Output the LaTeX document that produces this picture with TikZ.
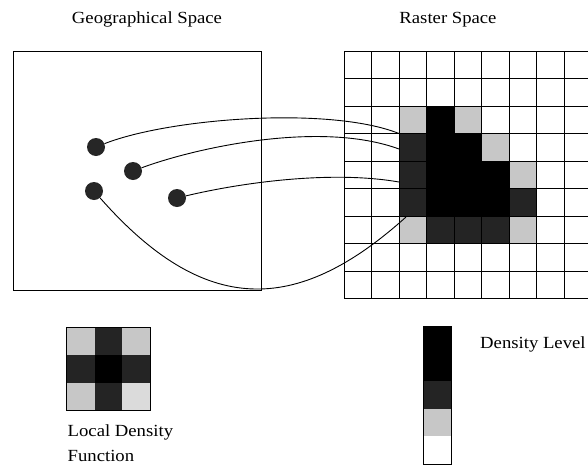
\documentclass[tikz,border=0pt]{standalone}
\usepackage{fontspec}
\setmainfont{Liberation Serif}[FakeStretch=1.1]
\usepackage{tikz}
\usetikzlibrary{positioning}
\tikzset{
  label text/.style={font=\fontsize{17}{24.5}\selectfont, inner sep=0pt},
  site/.style={circle, fill=black!85, inner sep=0pt, minimum size=18pt},
  link/.style={line width=0.9pt},
  frame/.style={line width=0.9pt},
  lightcell/.style={fill=black!22},
  darkcell/.style={fill=black!86},
  blackcell/.style={fill=black},
  palecell/.style={fill=black!14},
}
\newcommand{\cellsz}{27.5}

\begin{document}
\begin{tikzpicture}[x=1pt, y=-1pt]
    \useasboundingbox (0,0) rectangle (588,466);

    % titles
    \node[label text, anchor=base] (geotitle) at (147,23) {Geographical Space};
    \node[label text, anchor=base] (rastitle) at (448,23) {Raster Space};

    % geographical space
    \draw[frame] (13,51) rectangle (261,290);
    \node[site] (s1) at (96,147)  {};
    \node[site] (s2) at (133,171) {};
    \node[site] (s3) at (94,191)  {};
    \node[site] (s4) at (177,198) {};

    % raster space: filled cells (column/row/tone)
    \foreach \c/\r/\tone in {2/2/lightcell, 3/2/blackcell, 4/2/lightcell,
                             2/3/darkcell, 3/3/blackcell, 4/3/blackcell, 5/3/lightcell,
                             2/4/darkcell, 3/4/blackcell, 4/4/blackcell, 5/4/blackcell, 6/4/lightcell,
                             2/5/darkcell, 3/5/blackcell, 4/5/blackcell, 5/5/blackcell, 6/5/darkcell,
                             2/6/lightcell, 3/6/darkcell, 4/6/darkcell, 5/6/darkcell, 6/6/lightcell}
      \fill[\tone] (344+\c*\cellsz, 51+\r*\cellsz) rectangle ++(\cellsz,\cellsz);
    \foreach \i in {0,...,9} {
      \draw[frame] (344+\i*\cellsz, 51) -- ++(0, 9*\cellsz);
      \draw[frame] (344, 51+\i*\cellsz) -- ++(9*\cellsz, 0);
    }

    % where the sites land in the raster
    \coordinate (r1) at (399,133.5);
    \coordinate (r2) at (399,149);
    \coordinate (r3) at (399,182);
    \coordinate (r4) at (406,217);

    \draw[link] (s1) .. controls (170,118) and (330,106) .. (r1);
    \draw[link] (s2) .. controls (195,148) and (320,120) .. (r2);
    \draw[link] (s4) .. controls (240,183) and (330,170) .. (r3);
    \draw[link] (s3) .. controls (204,316) and (296,316) .. (r4);

    % local density function
    \foreach \c/\r/\tone in {0/0/lightcell, 1/0/darkcell, 2/0/lightcell,
                             0/1/darkcell, 1/1/blackcell, 2/1/darkcell,
                             0/2/lightcell, 1/2/darkcell, 2/2/palecell}
      \fill[\tone] (66.7+\c*27.8, 327.3+\r*27.8) rectangle ++(27.8,27.8);
    \draw[frame] (66.7,327.3) rectangle (150.1,410.7);
    \node[label text, anchor=north west, align=left] (ldf) at (67.5,424.5)
      {Local Density\\Function};

    % density level legend
    \foreach \r/\tone in {0/blackcell, 1/blackcell, 2/darkcell, 3/lightcell}
      \fill[\tone] (423.3, 326+\r*27.6) rectangle ++(27.7,27.6);
    \draw[frame] (423.3,326) rectangle (451,464);
    \node[label text, anchor=base west] (dlevel) at (480,348) {Density Level};
  \end{tikzpicture}
\end{document}
